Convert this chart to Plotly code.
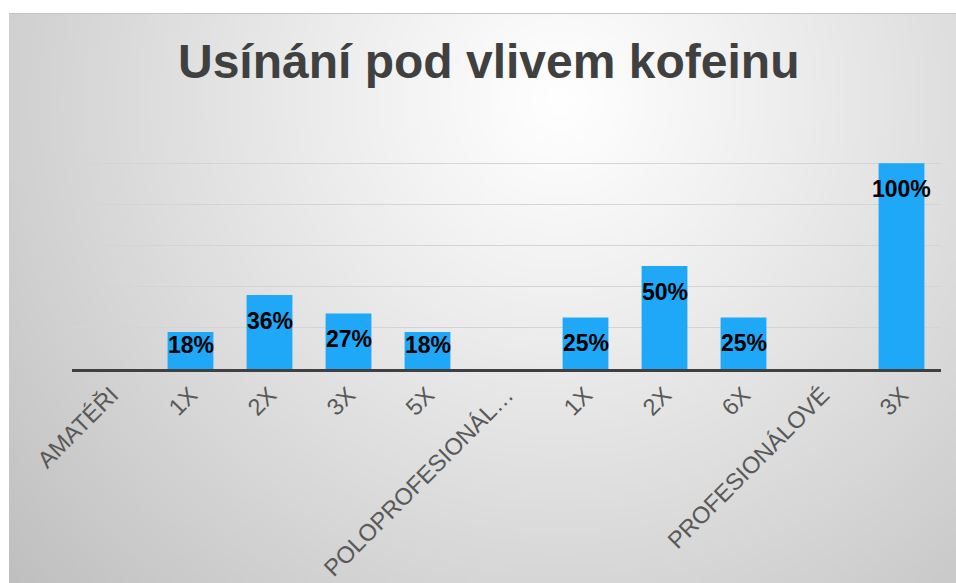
import base64
import struct
import zlib

import numpy as np
import plotly.graph_objects as go

# ---------------- data ----------------
categories = ["AMATÉŘI", "1X", "2X", "3X", "5X", "POLOPROFESIONÁL…",
              "1X", "2X", "6X", "PROFESIONÁLOVÉ", "3X"]
values = [None, 18, 36, 27, 18, None, 25, 50, 25, None, 100]
title_text = "Usínání pod vlivem kofeinu"

# ---------------- background gradient (PNG data URI) ----------------
W, H = 947, 570          # size of grey chart box in px
w, h = 237, 143          # low-res gradient, stretched by the browser
yy, xx = np.mgrid[0:h, 0:w]
px = (xx + 0.5) * W / w
py = (yy + 0.5) * H / h
cx, cy = 551, 87
d = np.sqrt((px - cx) ** 2 + (py - cy) ** 2)
t = np.clip(d / 735.0, 0, 1) ** 1.1
c = (255 - 64 * t).astype(np.uint8)
img = np.stack([c, c, c], axis=-1)


def _chunk(tag, data):
    out = struct.pack(">I", len(data)) + tag + data
    return out + struct.pack(">I", zlib.crc32(tag + data) & 0xFFFFFFFF)


raw = b"".join(b"\x00" + img[r].tobytes() for r in range(h))
png = (b"\x89PNG\r\n\x1a\n"
       + _chunk(b"IHDR", struct.pack(">IIBBBBB", w, h, 8, 2, 0, 0, 0))
       + _chunk(b"IDAT", zlib.compress(raw, 9))
       + _chunk(b"IEND", b""))
bg_uri = "data:image/png;base64," + base64.b64encode(png).decode()

# ---------------- layout geometry ----------------
FW, FH = 956, 583
ML, MR, MT, MB = 72, 15, 122, 214
PW = FW - ML - MR
PH = FH - MT - MB


def px2paper_x(xp):
    return (xp - ML) / PW


def px2paper_y(yp):
    return (FH - MB - yp) / PH


x = list(range(len(categories)))

fig = go.Figure()
fig.add_trace(go.Bar(
    x=x, y=values,
    marker=dict(color="#1FA8F8", line=dict(width=0)),
    hoverinfo="skip",
))

annotations = []
for xi, v in zip(x, values):
    if v is None:
        continue
    annotations.append(dict(
        x=xi, y=max(v - 12.6, 11.6), xref="x", yref="y",
        text=f"<b>{v}%</b>", showarrow=False, yanchor="middle", xanchor="center",
        font=dict(family="Liberation Sans, Arial", size=23, color="#000000"),
    ))

annotations.append(dict(
    x=px2paper_x(488), y=px2paper_y(61), xref="paper", yref="paper",
    text=f"<b>{title_text}</b>", showarrow=False,
    xanchor="center", yanchor="middle",
    font=dict(family="Liberation Sans, Arial", size=48, color="#404040"),
))

fig.update_layout(
    width=FW, height=FH,
    margin=dict(l=ML, r=MR, t=MT, b=MB, autoexpand=False),
    paper_bgcolor="#ffffff",
    plot_bgcolor="rgba(0,0,0,0)",
    showlegend=False,
    bargap=0.42,
    annotations=annotations,
    images=[dict(
        source=bg_uri, xref="paper", yref="paper",
        x=px2paper_x(9), y=px2paper_y(13),
        sizex=(FW - 9) / PW, sizey=(FH - 13) / PH,
        xanchor="left", yanchor="top", sizing="stretch", layer="below",
    )],
    shapes=[dict(
        type="line", xref="paper", yref="paper",
        x0=px2paper_x(9), x1=px2paper_x(FW),
        y0=px2paper_y(13.5), y1=px2paper_y(13.5),
        line=dict(color="#c4c4c4", width=1),
    )],
    xaxis=dict(
        range=[-0.5, len(categories) - 0.5],
        tickvals=x, ticktext=categories, tickangle=-45,
        tickfont=dict(family="Liberation Sans, Arial", size=23.5, color="#595959"),
        showline=True, linecolor="#404040", linewidth=3,
        showgrid=False, zeroline=False, ticks="", fixedrange=True,
    ),
    yaxis=dict(
        range=[0, 120], dtick=20, showticklabels=False,
        showgrid=True, gridcolor="#d4d4d4", gridwidth=1,
        zeroline=False, showline=False, ticks="", fixedrange=True,
    ),
)

fig.write_html(
    "out.html",
    config={"displayModeBar": False},
    post_script="document.body.style.margin='0';document.body.style.padding='0';"
                "document.body.style.overflow='hidden';",
)
